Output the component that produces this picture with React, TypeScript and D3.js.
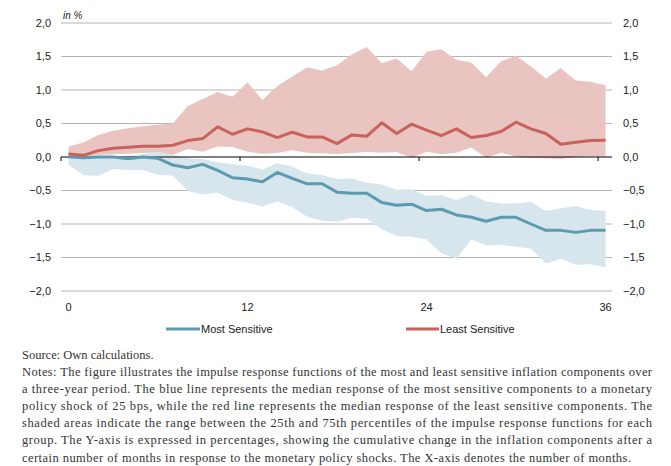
import * as d3 from 'd3'

// months after the shock
const months = [
  0, 1, 2, 3, 4, 5, 6, 7, 8, 9, 10, 11, 12, 13, 14, 15, 16, 17, 18,
  19, 20, 21, 22, 23, 24, 25, 26, 27, 28, 29, 30, 31, 32, 33, 34, 35, 36
]
const xTickLabels = [0, 12, 24, 36]
const yTicks = [-2, -1.5, -1, -0.5, 0, 0.5, 1, 1.5, 2]

// least sensitive (red): median, 25th and 75th percentile
const leastMedian = [
  0.045, 0.025, 0.095, 0.13, 0.145, 0.16, 0.16, 0.175, 0.245, 0.275, 0.45, 0.34, 0.42,
  0.375, 0.29, 0.37, 0.3, 0.3, 0.2, 0.33, 0.31, 0.51, 0.35, 0.49, 0.4, 0.32, 0.42,
  0.29, 0.32, 0.38, 0.52, 0.42, 0.35, 0.19, 0.22, 0.245, 0.25
]
const leastUpper = [
  0.155, 0.215, 0.33, 0.39, 0.43, 0.46, 0.48, 0.5, 0.76, 0.865, 0.97, 0.9, 1.115,
  0.85, 1.06, 1.2, 1.34, 1.29, 1.37, 1.53, 1.64, 1.4, 1.47, 1.28, 1.57, 1.61, 1.45,
  1.41, 1.19, 1.43, 1.51, 1.35, 1.17, 1.33, 1.14, 1.125, 1.07
]
const leastLower = [
  0.03, 0.0, 0.03, 0.04, 0.05, 0.06, 0.07, 0.03, 0.12, 0.08, 0.155, 0.15, 0.08,
  0.05, 0.06, 0.1, 0.065, 0.055, 0.045, 0.06, 0.075, 0.065, 0.075, -0.01, 0.08, 0.04,
  0.065, 0.14, -0.01, 0.065, 0.005, -0.015, -0.02, -0.03, 0.0, 0.015, 0.005
]

// most sensitive (blue)
const mostMedian = [
  0.005, -0.01, 0.0, 0.0, -0.025, 0.0, -0.02, -0.12, -0.16, -0.11, -0.2, -0.31, -0.33,
  -0.37, -0.23, -0.32, -0.4, -0.4, -0.525, -0.54, -0.54, -0.68, -0.72, -0.705, -0.8,
  -0.78, -0.865, -0.9, -0.96, -0.9, -0.9, -1.0, -1.095, -1.095, -1.125, -1.095, -1.095
]
const mostUpper = [
  0.01, 0.0, 0.0, 0.005, 0.015, 0.045, 0.075, 0.035, -0.02, -0.035, -0.08, -0.11, -0.13,
  -0.185, -0.095, -0.145, -0.245, -0.27, -0.33, -0.32, -0.385, -0.41, -0.49, -0.48,
  -0.58, -0.57, -0.64, -0.56, -0.665, -0.695, -0.695, -0.67, -0.805, -0.765, -0.73, -0.79, -0.805
]
const mostLower = [
  -0.115, -0.27, -0.285, -0.18, -0.195, -0.195, -0.265, -0.28, -0.51, -0.56, -0.53, -0.64,
  -0.68, -0.74, -0.665, -0.75, -0.89, -0.95, -0.965, -0.905, -0.92, -1.08, -1.18, -1.19,
  -1.23, -1.44, -1.52, -1.23, -1.32, -1.31, -1.34, -1.37, -1.59, -1.52, -1.61, -1.6, -1.65
]

const notesLines = [
  'Notes: The figure illustrates the impulse response functions of the most and least sensitive inflation components over',
  'a three-year period. The blue line represents the median response of the most sensitive components to a monetary',
  'policy shock of 25 bps, while the red line represents the median response of the least sensitive components. The',
  'shaded areas indicate the range between the 25th and 75th percentiles of the impulse response functions for each',
  'group. The Y-axis is expressed in percentages, showing the cumulative change in the inflation components after a',
  'certain number of months in response to the monetary policy shocks. The X-axis denotes the number of months.'
]

const RED = '#c8625a'
const RED_FILL = '#eac4c0'
const BLUE = '#5b9ab1'
const BLUE_FILL = '#d7e6ed'
const SANS = '"Liberation Sans Narrow", "Arial Narrow", "Liberation Sans", Arial, sans-serif'
const SERIF = '"Liberation Serif", "Times New Roman", serif'

export default function App() {
  const width = 671
  const height = 466
  const left = 61
  const right = 613
  const top = 23
  const bottom = 291

  const x = d3.scaleBand<number>().domain(months).range([left, right])
  const cx = (m: number) => x(m)! + x.bandwidth() / 2
  const y = d3.scaleLinear().domain([-2, 2]).range([bottom, top])

  const area = (lo: number[], hi: number[]) =>
    d3.area<number>()
      .x(m => cx(m))
      .y0((_, i) => y(lo[i]))
      .y1((_, i) => y(hi[i]))(months) ?? ''

  const line = (vals: number[]) =>
    d3.line<number>()
      .x(m => cx(m))
      .y((_, i) => y(vals[i]))(months) ?? ''

  const fmt = (v: number) => d3.format('.1f')(v).replace('.', ',')

  return (
    <svg width={width} height={height}
      style={{ position: 'absolute', left: 0, top: 0, display: 'block', background: '#fff' }}>
      {/* grid */}
      {yTicks.filter(t => t !== 0).map(t => (
        <line key={t} x1={left} x2={right - 1} y1={y(t)} y2={y(t)} stroke="#b4b4b4" strokeWidth={1} />
      ))}

      <path d={area(leastLower, leastUpper)} fill={RED_FILL} />
      <path d={area(mostLower, mostUpper)} fill={BLUE_FILL} />

      {/* zero axis */}
      <line x1={left} x2={right - 1} y1={y(0)} y2={y(0)} stroke="#000" strokeWidth={1} />
      {xTickLabels.map(m => (
        <line key={m} x1={x(m)!} x2={x(m)!} y1={y(0)} y2={y(0) + 4} stroke="#000" strokeWidth={1} />
      ))}

      <path d={line(mostMedian)} fill="none" stroke={BLUE} strokeWidth={3} strokeLinejoin="round" />
      <path d={line(leastMedian)} fill="none" stroke={RED} strokeWidth={3} strokeLinejoin="round" />

      {/* y labels both sides */}
      <g fontFamily={SANS} fontSize={11} fill="#222">
        {yTicks.map(t => (
          <text key={'l' + t} x={51} y={y(t)} dy="0.35em" textAnchor="end">{fmt(t)}</text>
        ))}
        {yTicks.map(t => (
          <text key={'r' + t} x={623} y={y(t)} dy="0.35em">{fmt(t)}</text>
        ))}
        {xTickLabels.map(m => (
          <text key={'x' + m} x={cx(m)} y={310.5} textAnchor="middle">{m}</text>
        ))}
        <text x={63} y={18.5} fontSize={10} fontStyle="italic">in %</text>

        {/* legend */}
        <line x1={166} x2={200} y1={329} y2={329} stroke={BLUE} strokeWidth={3} />
        <text x={201} y={329} dy="0.35em">Most Sensitive</text>
        <line x1={406} x2={439} y1={329} y2={329} stroke={RED} strokeWidth={3} />
        <text x={440} y={329} dy="0.35em">Least Sensitive</text>
      </g>

      {/* source & notes */}
      <g fontFamily={SERIF} fontSize={12.5} fill="#333">
        <text x={22} y={359}>Source: Own calculations.</text>
        {notesLines.map((s, i) => (
          <text key={i} x={22} y={376 + i * 17.1}
            textLength={i === notesLines.length - 1 ? 609 : 630} lengthAdjust="spacing">{s}</text>
        ))}
      </g>
    </svg>
  )
}
